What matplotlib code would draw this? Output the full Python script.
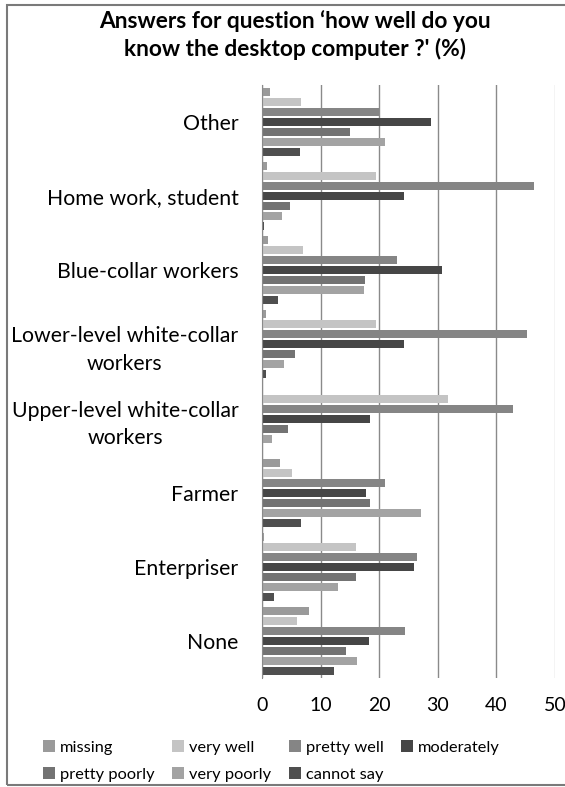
import numpy as np
import matplotlib.pyplot as plt
from matplotlib.patches import Rectangle

plt.rcParams['font.family'] = ['Lato', 'DejaVu Sans']

categories = ['Other', 'Home work, student', 'Blue-collar workers',
              'Lower-level white-collar\nworkers',
              'Upper-level white-collar\nworkers',
              'Farmer', 'Enterpriser', 'None']

series_names = ['missing', 'very well', 'pretty well', 'moderately',
                'pretty poorly', 'very poorly', 'cannot say']

# values per series, one per category (top to bottom)
missing = [1.4, 0.9, 1.0, 0.6, 0.2, 3.0, 0.4, 8.1]
very_well = [6.6, 19.5, 7.0, 19.5, 31.7, 5.2, 16.1, 6.0]
pretty_well = [19.9, 46.4, 23.1, 45.3, 42.8, 21.0, 26.4, 24.4]
moderately = [28.8, 24.3, 30.8, 24.3, 18.5, 17.8, 25.9, 18.3]
pretty_poorly = [15.0, 4.7, 17.5, 5.7, 4.4, 18.5, 16.1, 14.4]
very_poorly = [21.0, 3.4, 17.4, 3.7, 1.7, 27.2, 12.9, 16.2]
cannot_say = [6.5, 0.4, 2.7, 0.7, 0.1, 6.7, 2.1, 12.3]

data = [missing, very_well, pretty_well, moderately,
        pretty_poorly, very_poorly, cannot_say]
colors = ['#9a9a9a', '#c4c4c4', '#858585', '#464646',
          '#737373', '#a3a3a3', '#4f4f4f']

fig = plt.figure(figsize=(5.65, 7.87), dpi=100)
ax = fig.add_axes([262/565, 1-678/787, 293/565, 593/787])

slot = 10/74
height = 8/74
y = np.arange(len(categories)) + 0.5
handles = []
for j, (vals, c) in enumerate(zip(data, colors)):
    h = ax.barh(y + (j-3)*slot, vals, height=height, color=c,
                label=series_names[j], zorder=3)
    handles.append(h)

ax.set_xlim(0, 50)
ax.set_ylim(len(categories), 0)
ax.set_xticks([0, 10, 20, 30, 40, 50])
ax.set_yticks(y)
ax.set_yticklabels(categories)
for t in ax.get_yticklabels():
    t.set_multialignment('center')
    t.set_linespacing(1.45)
ax.tick_params(axis='y', length=0, pad=17, labelsize=15.3)
ax.tick_params(axis='x', length=0, pad=14, labelsize=14)

ax.xaxis.grid(True, color='#8a8a8a', linewidth=1, zorder=0)
gl = ax.get_xgridlines()
gl[-1].set_color('#c8c8c8')
for s in ['top', 'right', 'bottom']:
    ax.spines[s].set_visible(False)
ax.spines['left'].set_color('#8a8a8a')
ax.spines['left'].set_zorder(4)

fig.text(0.522, 0.987, "Answers for question \u2018how well do you\nknow the desktop computer ?' (%)",
         ha='center', va='top', fontsize=16.4, fontweight='bold', linespacing=1.3)

order = [0, 4, 1, 5, 2, 6, 3]
fig.legend([handles[i] for i in order], [series_names[i] for i in order],
           ncol=4, loc='lower left', bbox_to_anchor=(0.05, -0.012),
           frameon=False, fontsize=11.8, handlelength=0.75, handleheight=0.75,
           handletextpad=0.3, columnspacing=1.05, labelspacing=0.75)

fig.patches.append(Rectangle((7/565, 2/787), 1.1, 1-7/787, transform=fig.transFigure,
                             fill=False, edgecolor='#7a7a7a', linewidth=1.5))

fig.savefig('out.png', dpi=100)
